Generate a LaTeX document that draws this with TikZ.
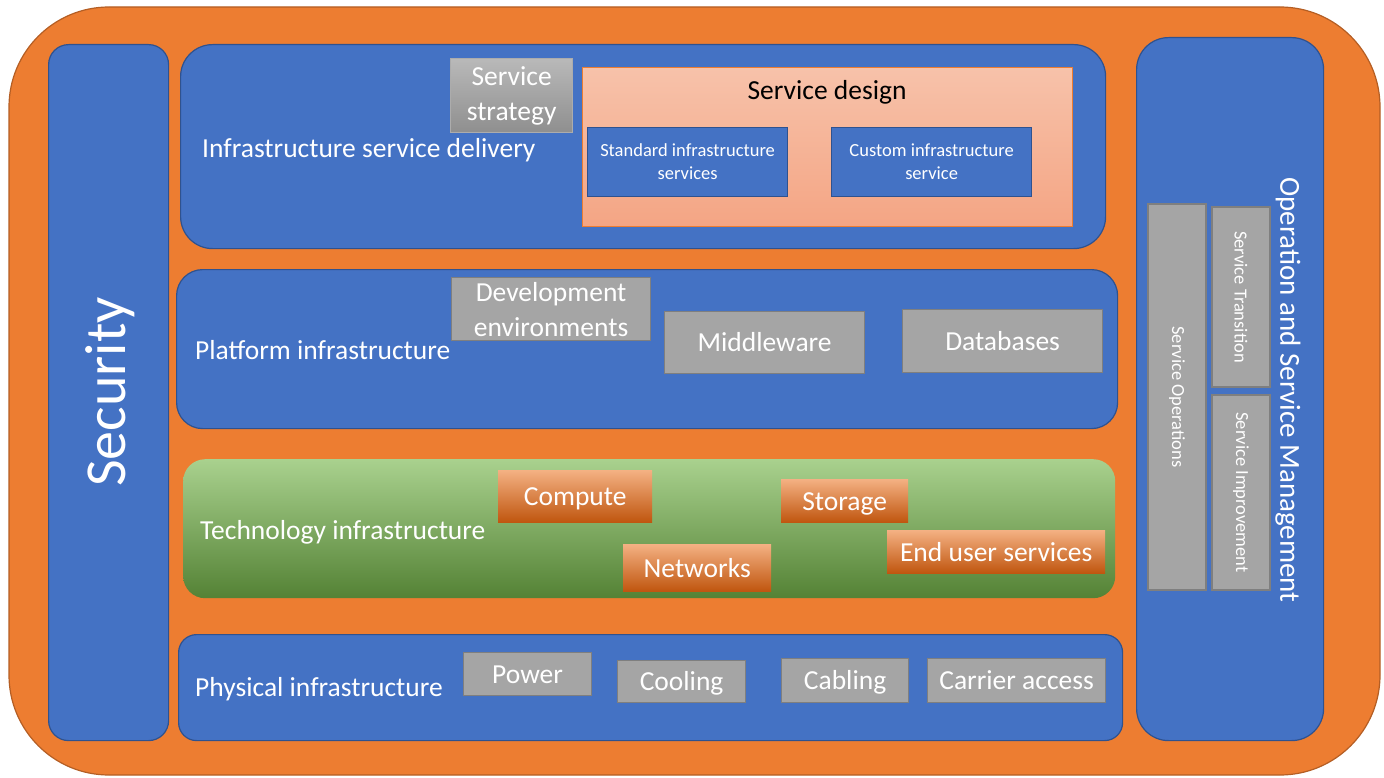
\documentclass[tikz,border=0pt]{standalone}
\usepackage{fontspec}
\setmainfont{Carlito}
\usepackage{tikz}
\definecolor{frameorange}{HTML}{ED7D31}
\definecolor{frameedge}{HTML}{B45E24}
\definecolor{layerblue}{HTML}{4472C4}
\definecolor{layeredge}{HTML}{2F528F}
\definecolor{itemgray}{HTML}{A5A5A5}
\definecolor{itemedge}{HTML}{7F7F7F}
\definecolor{designtop}{HTML}{F7C2AA}
\definecolor{designbottom}{HTML}{F4A584}
\definecolor{techtop}{HTML}{A9D18E}
\definecolor{techbottom}{HTML}{548235}
\definecolor{chiptop}{HTML}{F4B183}
\definecolor{chipbottom}{HTML}{C0560F}
\newcommand\lbltext{\fontsize{27.5}{35}\selectfont}
\newcommand\subtext{\fontsize{18.5}{23}\selectfont}
\newcommand\sectext{\fontsize{58}{60}\selectfont}
\newcommand\opstext{\fontsize{29}{32}\selectfont}
\tikzset{
  frame/.style = {draw=frameedge, fill=frameorange, line width=1.2pt, rounded corners=100pt},
  layer/.style = {draw=layeredge, fill=layerblue, line width=1.2pt, anchor=north west, inner sep=0pt},
  oneline/.style = {text height=26pt, text depth=7.4pt},
  lbl/.style = {oneline, text=white, font=\lbltext, inner sep=0pt, anchor=west},
  item/.style = {draw=itemedge, fill=itemgray, line width=1.2pt, anchor=north west, inner sep=0pt,
                 text=white, font=\lbltext, align=center},
  sideitem/.style = {item, anchor=center, rotate=-90, font=\subtext},
  subservice/.style = {draw=layeredge, fill=layerblue, line width=1.2pt, anchor=north west, inner sep=0pt,
                       text=white, font=\subtext, align=center},
  designbox/.style = {draw=frameorange, line width=1pt, anchor=north west, inner sep=0pt,
                      top color=designtop, bottom color=designbottom},
  techbox/.style = {anchor=north west, inner sep=0pt, rounded corners=22pt,
                    top color=techtop, bottom color=techbottom},
  chip/.style = {oneline, anchor=north west, inner sep=0pt, text=white, font=\lbltext,
                 top color=chiptop, middle color=frameorange, bottom color=chipbottom},
}
\begin{document}
\begin{tikzpicture}[x=1pt, y=-1pt]
\useasboundingbox (0,0) rectangle (1384,778);
\draw[frame] (9,7) rectangle (1380,775);

% security column
\node [layer, rounded corners=20pt, minimum width=120pt, minimum height=696pt] (security) at (48,44) {};
\node [text=white, font=\sectext, rotate=90, inner sep=0pt] (securitylbl) at (110,392) {Security};

% infrastructure service delivery
\node [layer, rounded corners=32pt, minimum width=925pt, minimum height=204pt] (delivery) at (180,44) {};
\node [lbl] (deliverylbl) at ([xshift=22pt,yshift=-2pt]delivery.west) {Infrastructure service delivery};
\node [item, minimum width=122pt, minimum height=74pt, top color=gray!55, bottom color=gray!88,
       draw=gray!65] (strategy) at (450,58) {Service\\strategy};
\node [designbox, minimum width=490pt, minimum height=159pt] (design) at (582,67) {};
\node [font=\lbltext, inner sep=0pt] (designlbl) at (827,92) {Service design};
\node [subservice, minimum width=200pt, minimum height=69pt] (standard) at (587,127) {Standard infrastructure\\services};
\node [subservice, minimum width=200pt, minimum height=69pt] (custom) at (831,127) {Custom infrastructure\\service};

% platform infrastructure
\node [layer, rounded corners=26pt, minimum width=941pt, minimum height=159pt] (platform) at (176,269) {};
\node [lbl] (platformlbl) at ([xshift=19pt,yshift=-1pt]platform.west) {Platform infrastructure};
\node [item, minimum width=199pt, minimum height=63pt] (devenv) at (451,277) {Development\\environments};
\node [item, oneline, minimum width=200pt, minimum height=62pt] (middleware) at (664,311) {Middleware};
\node [item, oneline, minimum width=200pt, minimum height=63pt] (databases) at (902,309) {Databases};

% technology infrastructure
\node [techbox, minimum width=932pt, minimum height=139pt] (tech) at (183,459) {};
\node [lbl] (techlbl) at ([xshift=17pt,yshift=-1pt]tech.west) {Technology infrastructure};
\node [chip, minimum width=154pt, minimum height=52pt] (compute) at (498,470) {Compute};
\node [chip, minimum width=127pt, minimum height=43pt] (storage) at (781,479) {Storage};
\node [chip, minimum width=148pt, minimum height=47pt] (networks) at (623,544) {Networks};
\node [chip, minimum width=218pt, minimum height=43pt] (enduser) at (887,530) {End user services};

% physical infrastructure
\node [layer, rounded corners=18pt, minimum width=944pt, minimum height=106pt] (physical) at (178,634) {};
\node [lbl] (physicallbl) at ([xshift=17pt]physical.west) {Physical infrastructure};
\node [item, oneline, minimum width=128pt, minimum height=43pt] (power) at (463,652) {Power};
\node [item, oneline, minimum width=128pt, minimum height=42pt] (cooling) at (617,660) {Cooling};
\node [item, oneline, minimum width=127pt, minimum height=44pt] (cabling) at (781,658) {Cabling};
\node [item, oneline, minimum width=178pt, minimum height=44pt] (carrier) at (927,658) {Carrier access};

% operation and service management column
\node [layer, rounded corners=32pt, minimum width=187pt, minimum height=703pt] (ops) at (1136,37) {};
\node [sideitem, minimum width=386pt, minimum height=58pt] (operations) at (1177,397) {Service Operations};
\node [sideitem, minimum width=180pt, minimum height=58pt] (transition) at (1241,297) {Service Transition};
\node [sideitem, minimum width=195pt, minimum height=58pt] (improvement) at (1241,492.5) {Service Improvement};
\node [text=white, font=\opstext, rotate=-90, inner sep=0pt] (opslbl) at (1288,390) {Operation and Service Management};
\end{tikzpicture}
\end{document}
